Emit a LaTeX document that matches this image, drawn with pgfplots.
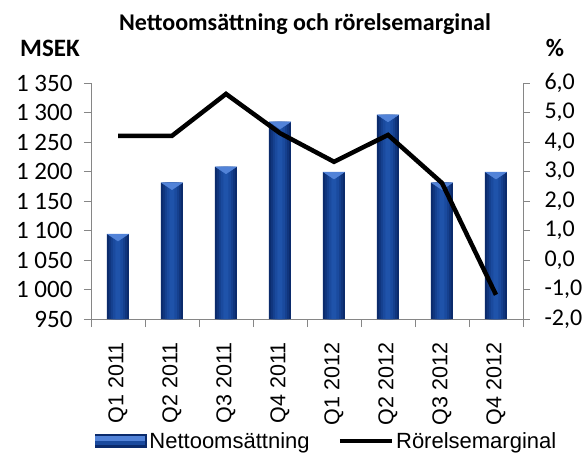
\documentclass[border=0pt]{standalone}
\usepackage{pgfplots}
\pgfplotsset{compat=1.18}
\usepackage{pgfplotstable}
\usepackage{fontspec}
\setmainfont{Carlito}
\newfontfamily\arial{Liberation Sans}
\definecolor{barA}{HTML}{0B2B6C}
\definecolor{barB}{HTML}{10357D}
\definecolor{barC}{HTML}{15408E}
\definecolor{barD}{HTML}{1A4A9E}
\definecolor{barE}{HTML}{1F53AA}
\definecolor{bevel}{HTML}{5283D8}
\definecolor{axgray}{HTML}{868686}
\pgfdeclareplotmark{bevel}{\fill[bevel] (-10.5pt,0pt) -- (10.5pt,0pt) -- (0pt,-7pt) -- cycle;}
\pgfplotstableread{
x sales
0 1094
1 1181
2 1208
3 1284
4 1199
5 1296
6 1181
7 1199
}\sales
\pgfplotstableread{
x margin
0 4.21
1 4.21
2 5.63
3 4.30
4 3.33
5 4.24
6 2.61
7 -1.18
}\margin
\begin{document}
\begin{tikzpicture}[x=1pt,y=1pt]
\path[use as bounding box] (0,0) rectangle (582,453);
\node[font=\bfseries\fontsize{24}{29}\selectfont, anchor=base] at (305,422) {Nettoomsättning och rörelsemarginal};
\node[font=\bfseries\fontsize{25}{30}\selectfont, anchor=base] at (50,396) {MSEK};
\node[font=\bfseries\fontsize{25}{30}\selectfont, anchor=base] at (555,396) {\%};
\begin{axis}[
  at={(91pt,134pt)}, anchor=south west,
  scale only axis, width=432pt, height=236pt,
  xmin=-0.5, xmax=7.5, ymin=950, ymax=1350,
  ytick={950,1000,...,1350},
  axis y line*=left, axis x line*=bottom,
  axis line style={axgray, line width=0.9pt, -},
  every tick/.style={axgray, line width=0.9pt},
  tick align=outside,
  major tick length=7pt, minor tick length=8pt,
  xtick={0,...,7},
  xticklabels={Q1 2011,Q2 2011,Q3 2011,Q4 2011,Q1 2012,Q2 2012,Q3 2012,Q4 2012},
  minor xtick={-0.5,0.5,...,7.5},
  x tick style={draw=none},
  minor x tick style={draw=axgray, line width=0.9pt},
  xticklabel style={yshift=-13pt, rotate=90, anchor=east, font=\arial\fontsize{21.5}{26}\selectfont},
  yticklabel style={font=\fontsize{25}{30}\selectfont, xshift=-8pt},
  /pgf/number format/assume math mode=true,
  /pgf/number format/1000 sep={\ },
  legend style={at={(0.546,-0.518)}, anchor=center, draw=none, fill=none,
    font=\arial\fontsize{22}{26}\selectfont, legend columns=2,
    /tikz/every even column/.append style={column sep=26pt}},
  legend cell align=left,
  clip=true,
]
\addplot[ybar, bar shift=0pt, bar width=22pt, draw=none, fill=barA,
  legend image code/.code={%
    \fill[barA] (0pt,-7pt) rectangle (52pt,7pt);
    \fill[barD] (0pt,-3.5pt) rectangle (50pt,4pt);
    \fill[bevel] (0pt,0pt) rectangle (50pt,5pt);}]
  table[x=x, y=sales] {\sales};
\addlegendentry{Nettoomsättning}
\addplot[ybar, bar shift=0pt, bar width=18pt, draw=none, fill=barB, forget plot] table[x=x, y=sales] {\sales};
\addplot[ybar, bar shift=0pt, bar width=14pt, draw=none, fill=barC, forget plot] table[x=x, y=sales] {\sales};
\addplot[ybar, bar shift=0pt, bar width=10pt, draw=none, fill=barD, forget plot] table[x=x, y=sales] {\sales};
\addplot[ybar, bar shift=0pt, bar width=5pt, draw=none, fill=barE, forget plot] table[x=x, y=sales] {\sales};
\addplot[only marks, mark=bevel, forget plot] table[x=x, y=sales] {\sales};
\addlegendimage{black, line width=4.5pt, legend image code/.code={\draw[black, line width=4.5pt] (0pt,0pt) -- (52pt,0pt);}}
\addlegendentry{Rörelsemarginal}
\end{axis}
\begin{axis}[
  at={(91pt,134pt)}, anchor=south west,
  scale only axis, width=432pt, height=236pt,
  xmin=-0.5, xmax=7.5, ymin=-2, ymax=6,
  ytick={-2,-1,...,6},
  axis y line*=right, axis x line=none,
  axis line style={axgray, line width=0.9pt, -},
  every tick/.style={axgray, line width=0.9pt},
  tick align=outside, major tick length=7pt,
  yticklabel style={font=\fontsize{24}{29}\selectfont, xshift=11pt,
    /pgf/number format/.cd, fixed, fixed zerofill, precision=1, use comma},
  /pgf/number format/assume math mode=true,
]
\addplot[black, line width=4.5pt, line join=miter, mark=none] table[x=x, y=margin] {\margin};
\end{axis}
\end{tikzpicture}
\end{document}
